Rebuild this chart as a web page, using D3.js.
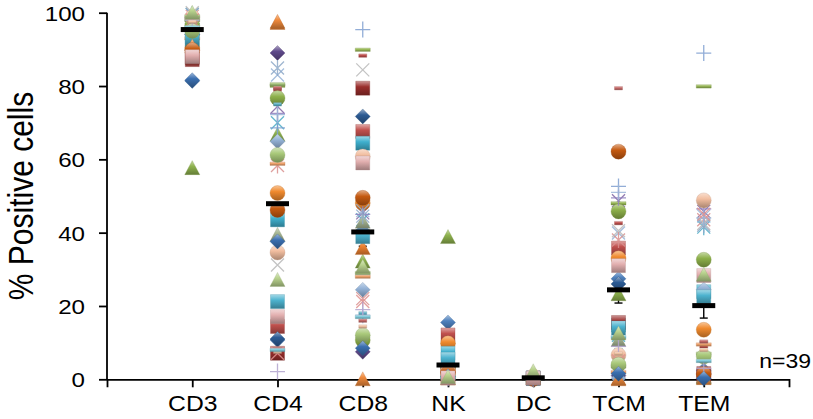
<!DOCTYPE html>
<html>
<head>
<meta charset="utf-8">
<script src="https://cdn.jsdelivr.net/npm/d3@7"></script>
<style>
  html, body { margin: 0; padding: 0; background: #fff; }
  svg { display: block; }
  text { font-family: "Liberation Sans", Arial, Helvetica, sans-serif; fill: #000; }
</style>
</head>
<body>
<svg id="chart" width="813" height="419"></svg>
<script>
// Cell populations on the x axis
const categories = ["CD3", "CD4", "CD8", "NK", "DC", "TCM", "TEM"];
const yTicks = [0, 20, 40, 60, 80, 100];

// One marker style per donor (39 donors)
const sampleSymbols = [
  "diamond", "square", "triangle", "x", "star", "circle", "plus", "dash", "longdash",
  "diamond", "square", "triangle", "x", "star", "circle", "plus", "dash", "longdash",
  "diamond", "square", "triangle", "x", "star", "circle", "plus", "dash", "longdash",
  "diamond", "square", "triangle", "x", "circle", "circle", "plus", "dash", "longdash",
  "diamond", "square", "triangle"
];
const sampleColors = [
  "#4F81BD", "#C0504D", "#8FB34E", "#8064A2", "#4BACC6", "#F08A2E", "#7F9FD0", "#C0504D", "#9BBB59",
  "#5F4A8B", "#3FB0CE", "#EE8230", "#95B3D7", "#D98F8D", "#8DB04A", "#9080BE", "#5FB3C9", "#F2A46E",
  "#2C5B94", "#9A2E2C", "#A8B895", "#B8B8B8", "#8EA9C8", "#F2BEA0", "#9DB6D8", "#C86B6A", "#A6C47A",
  "#95B3D7", "#4DB3CF", "#F08A3C", "#E0908E", "#A9C97A", "#C55A11", "#B2A3CE", "#F4C6A6", "#7ECBDB",
  "#3B6FB0", "#E2AFAF", "#B9D38E"
];

// Percent positive cells per donor, one array per population
const cd3Values = [81.4, 87.2, 57.6, 96, 99.5, 90.4, 97, 95, 98, 94, 92.6, 91.5, 97.5, 99, 96.5, 98.5, 94.5, 93, 94, 87.8,
  99.5, 100, 99.5, 98.8, 98, 97, 99, 95.5, 93.2, 90.8, 98, 95, 89.8, 98.5, 97.5, 96, 81.6, 88, 100];
const cd4Values = [10.7, 14.4, 66.7, 74.4, 70, 50.8, 68.6, 79, 80.1, 89, 43.5, 97.2, 83, 58.3, 76.7, 72.5, 75, 58.8, 11, 7.1,
  39.4, 31.2, 84.9, 34.6, 72.2, 79.5, 80.5, 64.9, 21.2, 97.5, 7.1, 61.2, 46.2, 2.1, 7.5, 8, 37.6, 17.1, 27.1];
const cd8Values = [40.5, 67.6, 32.1, 45.4, 43.5, 48.1, 95.4, 88.3, 89.9, 7.5, 64.4, 35.8, 46, 22, 10.7, 45, 18, 28, 71.7, 79.4,
  43, 84.4, 44.5, 60.8, 17.5, 16, 29, 24.4, 38.9, 0, 21.2, 12, 49.5, 19, 14.4, 17, 8.5, 59, 30.7];
const nkValues = [15.5, 12.1, 38.8, 5, 4, 9.8, 3, 4.5, 3.5, 2, 7.1, 1, 2.5, 1.5, 3, 2, 1, 2.5, 0.5, 1.5,
  0.3, 1, 0.5, 2.1, 0.8, 1.2, 0.4, 0.6, 5.5, 0.2, 0.7, 0.9, 1.8, 0.3, 1, 0.5, 0.8, 0.4, 0.6];
const dcValues = [0.5, 0.3, 1, 0.2, 0.4, 0.6, 0.1, 0.3, 0.2, 0.1, 0.4, 1.8, 0.2, 0.5, 0.3, 0.1, 0.2, 0.4, 0.1, 0.3,
  1.5, 0.6, 0.2, 0.8, 0.1, 0.2, 0.3, 0.1, 0.2, 0.4, 0.2, 0.3, 0.1, 0.2, 0.5, 0.1, 0.2, 0.3, 2.2];
const tcmValues = [27.4, 35.8, 23.2, 48.7, 12, 33, 52.6, 42.6, 48, 1, 14.8, 0.2, 39.9, 38, 45.8, 49.5, 8, 2, 26, 15.5,
  10.7, 40.5, 13, 6.6, 51, 79.4, 3.5, 0.3, 14, 0, 5, 4, 62.1, 9, 7, 11.5, 1.5, 31, 12.5];
const temValues = [2, 1, 0.5, 45.8, 41.5, 13.5, 89, 9, 79.9, 1.5, 23.9, 0.8, 44.5, 43.5, 32.6, 46.5, 10, 9.5, 2.5, 1.6,
  0.6, 42.5, 42, 48.8, 44, 10.3, 7, 24.5, 22.5, 0.3, 45, 6.2, 1.4, 3, 8, 5, 0.2, 28.3, 28.5];

// Group mean and standard error per population
const meanValues = [95.4, 47.9, 40.2, 3.9, 0.4, 24.4, 20.1];
const semValues = [1.3, 4.3, 3.9, 1.1, 0.1, 3.6, 3.4];
const sampleLabel = "n=39";

const valuesByCategory = [cd3Values, cd4Values, cd8Values, nkValues, dcValues, tcmValues, temValues];

const svg = d3.select("#chart");
const textStretch = 1.15;

const x = d3.scalePoint().domain(categories).range([107, 789]).padding(1);
const y = d3.scaleLinear().domain([0, 100]).range([379.3, 12.7]);

// Marker shading: light top, base middle, darker bottom
const defs = svg.append("defs");
sampleColors.forEach((c, i) => {
  const light = d3.interpolateRgb(c, "#ffffff")(0.5);
  const dark = d3.interpolateRgb(c, "#000000")(0.3);
  const g = defs.append("linearGradient").attr("id", "grad" + i)
    .attr("x1", 0).attr("y1", 0).attr("x2", 0).attr("y2", 1);
  g.append("stop").attr("offset", "0%").attr("stop-color", light);
  g.append("stop").attr("offset", "40%").attr("stop-color", d3.color(c).formatHex());
  g.append("stop").attr("offset", "100%").attr("stop-color", dark);
});

// Marker outlines
const markerPaths = {
  diamond: "M0,-7.5L7.5,0L0,7.5L-7.5,0Z",
  square: "M-7,-7H7V7H-7Z",
  triangle: "M0,-7.5L7.5,6.5L-7.5,6.5Z",
  circle: "M7.5,0A7.5,7.5 0 1,1 -7.5,0A7.5,7.5 0 1,1 7.5,0Z",
  x: "M-6.5,-6.5L6.5,6.5M6.5,-6.5L-6.5,6.5",
  star: "M-6.5,-6.5L6.5,6.5M6.5,-6.5L-6.5,6.5M0,-8V8",
  plus: "M-7.5,0H7.5M0,-8V8",
  dash: "M-4,-1.7H4V1.7H-4Z",
  longdash: "M-7.5,-1.7H7.5V1.7H-7.5Z"
};
const strokedSymbols = new Set(["x", "star", "plus"]);

// Axes
const yAxis = d3.axisLeft(y).tickValues(yTicks).tickSize(8).tickPadding(14).tickFormat(d3.format("d"));
const gy = svg.append("g").attr("transform", "translate(107,0)").call(yAxis);
gy.select(".domain").attr("stroke-width", 1.8).attr("d", "M0,12.7V379.3");
gy.selectAll(".tick line").attr("stroke-width", 1.8);
gy.selectAll(".tick text")
  .attr("font-size", 21).attr("font-family", null)
  .attr("x", -22 / textStretch).attr("dy", "0.36em")
  .attr("transform", `scale(${textStretch},1)`);

const xAxis = d3.axisBottom(x).tickSize(8).tickSizeOuter(8).tickPadding(10);
const gx = svg.append("g").attr("transform", "translate(0,379.3)").call(xAxis);
gx.select(".domain").attr("stroke-width", 1.8);
gx.selectAll(".tick line").attr("stroke-width", 1.8);
gx.selectAll(".tick text")
  .attr("font-size", 21.5).attr("font-family", null)
  .attr("y", 31.5).attr("dy", 0)
  .attr("transform", `scale(${textStretch},1)`);

// Y axis title
svg.append("text")
  .attr("transform", "translate(33,196) rotate(-90) scale(1,1.14)")
  .attr("text-anchor", "middle")
  .attr("font-size", 30)
  .text("% Positive cells");

// Sample size note
svg.append("text")
  .attr("transform", `translate(811,368) scale(${textStretch},1)`)
  .attr("text-anchor", "end")
  .attr("font-size", 20)
  .text(sampleLabel);

// Standard error whiskers (lower side)
const errG = svg.append("g");
categories.forEach((cat, ci) => {
  const cx = x(cat);
  const lo = Math.max(0, meanValues[ci] - semValues[ci]);
  errG.append("line").attr("x1", cx).attr("x2", cx)
    .attr("y1", y(meanValues[ci])).attr("y2", y(lo))
    .attr("stroke", "#000").attr("stroke-width", 1.4);
  errG.append("line").attr("x1", cx - 4).attr("x2", cx + 4)
    .attr("y1", y(lo)).attr("y2", y(lo))
    .attr("stroke", "#000").attr("stroke-width", 1.4);
});

// Donor markers, drawn donor by donor
const markerG = svg.append("g");
sampleSymbols.forEach((sym, si) => {
  categories.forEach((cat, ci) => {
    const v = valuesByCategory[ci][si];
    const p = markerG.append("path")
      .attr("d", markerPaths[sym])
      .attr("transform", `translate(${x(cat)},${y(v)})`);
    if (strokedSymbols.has(sym)) {
      p.attr("fill", "none").attr("stroke", sampleColors[si]).attr("stroke-width", 1.3)
        .attr("stroke-opacity", 0.85);
    } else {
      p.attr("fill", `url(#grad${si})`)
        .attr("stroke", d3.interpolateRgb(sampleColors[si], "#000")(0.2))
        .attr("stroke-width", 0.5).attr("stroke-opacity", 0.6);
    }
  });
});

// Mean bars
svg.append("g").selectAll("rect")
  .data(categories)
  .join("rect")
  .attr("x", d => x(d) - 11.5)
  .attr("y", (d, i) => y(meanValues[i]) - 2.5)
  .attr("width", 23)
  .attr("height", 5)
  .attr("fill", "#000");
</script>
</body>
</html>
